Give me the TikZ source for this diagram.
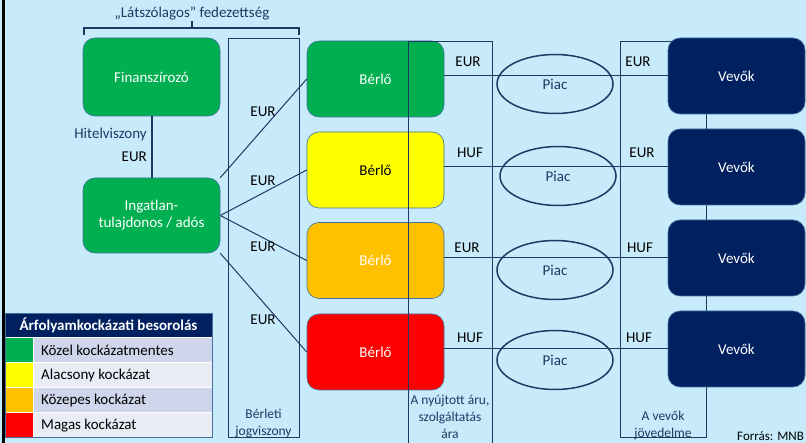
\documentclass[tikz,border=0pt]{standalone}
\usepackage{fontspec}
\setmainfont{Carlito}
\usetikzlibrary{shapes.geometric}

\definecolor{bgblue}{RGB}{199,235,251}
\definecolor{linecol}{RGB}{31,56,100}
\definecolor{boxedge}{RGB}{65,113,156}
\definecolor{kgreen}{RGB}{0,176,80}
\definecolor{kyellow}{RGB}{255,255,0}
\definecolor{korange}{RGB}{255,192,0}
\definecolor{kred}{RGB}{255,0,0}
\definecolor{knavy}{RGB}{0,32,96}
\definecolor{rowa}{RGB}{207,213,234}
\definecolor{rowb}{RGB}{233,235,245}

\begin{document}
\begin{tikzpicture}[x=1pt,y=-1pt,
    font=\fontsize{15}{17}\selectfont,
    box/.style={draw=boxedge, line width=.6pt, rounded corners=12pt,
      minimum width=137pt, minimum height=76pt, text=white, align=center},
    market/.style={ellipse, draw=linecol, line width=1.5pt, inner sep=0pt,
      minimum width=116pt, minimum height=59pt, text=linecol},
    column/.style={draw=linecol, line width=.8pt},
    link/.style={draw=linecol, line width=1pt},
    small/.style={font=\fontsize{13.5}{17}\selectfont, text=linecol, align=center}]

  % background and frame
  \useasboundingbox (0,0) rectangle (806,443);
  \fill [bgblue] (0,0) rectangle (806,443);
  \draw [line width=3pt, black] (3.5,-2) -- (3.5,445);

  % bracket
  \node (cover) at (192,14) [text=linecol] {„Látszólagos” fedezettség};
  \draw [line width=1.2pt, linecol] (84,35) -- (84,28) -- (299,28) -- (299,35);
  \draw [line width=1.2pt, linecol] (192,28) -- (192,21);

  % lease column
  \draw [column] (228,38) rectangle (299,437);
  \node (leaselab) at (263.5,423.5) [small] {Bérleti\\jogviszony};

  % owner side
  \node (fin) at (151.5,77) [box, fill=kgreen, minimum height=78pt] {Finanszírozó};
  \node (ing) at (151.5,215.5) [box, fill=kgreen, minimum height=75pt] {Ingatlan-\\tulajdonos / adós};
  \draw [line width=2pt, linecol] (fin) -- (ing);
  \node (hitel) at (147,135) [anchor=east, inner sep=0pt, text=linecol] {Hitelviszony};
  \node (hiteur) at (147,157) [anchor=east, inner sep=0pt] {EUR};

  % tenants
  \node (berlo1) at (375.5,79) [box, fill=kgreen] {Bérlő};
  \node (berlo2) at (375.5,170) [box, fill=kyellow] {\textcolor{black}{Bérlő}};
  \node (berlo3) at (375.5,260.5) [box, fill=korange] {Bérlő};
  \node (berlo4) at (375.5,352) [box, fill=kred] {Bérlő};

  \draw [link] (ing.north east) -- (berlo1.west);
  \draw [link] (ing.east) -- (berlo2.west);
  \draw [link] (ing.east) -- (berlo3.west);
  \draw [link] (ing.south east) -- (berlo4.west);

  \node (le1) at (263,112) {EUR};
  \node (le2) at (263,181) {EUR};
  \node (le3) at (263,247) {EUR};
  \node (le4) at (263,320) {EUR};

  % price column
  \draw [column] (408,41) -- (408,450);
  \draw [column] (492,41) -- (492,450);
  \draw [column] (408,41) -- (492,41);
  \node (pricelab) at (450,417) [small] {A nyújtott áru,\\szolgáltatás\\ára};

  % income column
  \draw [column] (620,41) rectangle (706,437);
  \node (incomelab) at (663,425.5) [small] {A vevők\\jövedelme};

  % markets
  \node (piac1) at (555,84) [market] {Piac};
  \node (piac2) at (558,176) [market] {Piac};
  \node (piac3) at (555,270) [market] {Piac};
  \node (piac4) at (555,360) [market] {Piac};

  % buyers
  \node (vevo1) at (736.5,76) [box, fill=knavy] {Vevők};
  \node (vevo2) at (736.5,167) [box, fill=knavy] {Vevők};
  \node (vevo3) at (736.5,258) [box, fill=knavy] {Vevők};
  \node (vevo4) at (736.5,349) [box, fill=knavy] {Vevők};

  \foreach \i in {1,...,4}
    \draw [link] (berlo\i.east |- vevo\i.west) -- (vevo\i.west);

  \node (pa1) at (468,62) {EUR};
  \node (pa2) at (470,153) {HUF};
  \node (pa3) at (467,248) {EUR};
  \node (pa4) at (470,338) {HUF};
  \node (ia1) at (638,62) {EUR};
  \node (ia2) at (642,153) {EUR};
  \node (ia3) at (640,248) {HUF};
  \node (ia4) at (639,338) {HUF};

  % legend
  \fill [knavy] (5,313) rectangle (212,338);
  \node (legtitle) at (108.5,325.5) [text=white, font=\fontsize{15}{17}\selectfont\bfseries] {Árfolyamkockázati besorolás};
  \foreach \c/\t/\r [count=\n from 0] in {kgreen/Közel kockázatmentes/rowa,
      kyellow/Alacsony kockázat/rowb, korange/Közepes kockázat/rowa, kred/Magas kockázat/rowb}
  {
    \fill [\c] (5,338+25*\n) rectangle (33,363+25*\n);
    \fill [\r] (33,338+25*\n) rectangle (212,363+25*\n);
    \draw [white, line width=1pt] (5,338+25*\n) -- (212,338+25*\n);
    \node (leg\n) at (41,350.5+25*\n) [anchor=west, inner sep=0pt] {\t};
  }
  \draw [white, line width=1pt] (33,338) -- (33,437);
  \draw [boxedge, line width=.8pt] (5,313) rectangle (212,437);

  \node (source) at (737,440) [anchor=base west, inner sep=0pt, font=\fontsize{13}{16}\selectfont] {Forrás: MNB};
\end{tikzpicture}
\end{document}
